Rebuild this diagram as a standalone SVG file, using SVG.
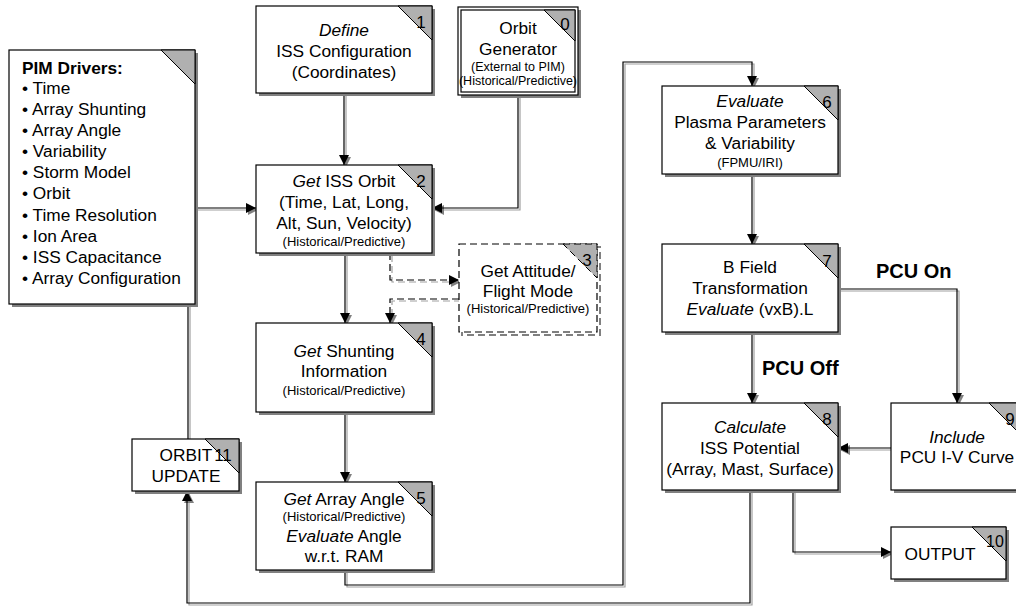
<svg xmlns="http://www.w3.org/2000/svg" width="1016" height="606" viewBox="0 0 1016 606">
<defs>
<style>
.bx{fill:#fff;stroke:#000;stroke-width:1.2}
.bd{fill:#fff;stroke:#000;stroke-width:1.2;stroke-dasharray:7 4}
.sh{fill:#808080}
.shd{fill:none;stroke:#808080;stroke-width:2;stroke-dasharray:7 4}
.tri{fill:#b0b0b0;stroke:#000;stroke-width:1}
text{font-family:"Liberation Sans",Arial,sans-serif;fill:#000}
.t{font-size:17.3px;text-anchor:middle}
.s{font-size:13px;text-anchor:middle}
.i{font-style:italic}
.n{font-size:17px;text-anchor:middle}
.l{font-size:17.3px}
.b{font-weight:bold}
.pcu{font-size:20px;font-weight:bold}
.ln{fill:none;stroke:#000;stroke-width:1.2;marker-end:url(#ah)}
.lg{fill:none;stroke:#a0a0a0;stroke-width:1.2;marker-end:url(#ag)}
.dl{stroke-dasharray:7 4}
</style>
<marker id="ah" markerUnits="userSpaceOnUse" markerWidth="12" markerHeight="12" refX="10" refY="5" orient="auto"><path d="M0,0 L10,5 L0,10 z" fill="#000"/></marker>
<marker id="ag" markerUnits="userSpaceOnUse" markerWidth="12" markerHeight="12" refX="10" refY="5" orient="auto"><path d="M0,0 L10,5 L0,10 z" fill="#808080"/></marker>
</defs>
<rect width="1016" height="606" fill="#fff"/>

<g id="connectors">
<g transform="translate(2,2)">
<path class="lg" d="M344,93 V165"/>
<path class="lg" d="M518,95 V208 H432"/>
<path class="lg" d="M188,439 V208 H256"/>
<path class="lg dl" d="M390,253 V280 H459"/>
<path class="lg dl" d="M459,299 H390 V323"/>
<path class="lg" d="M345,253 V323"/>
<path class="lg" d="M345,412 V482"/>
<path class="lg" d="M345,570 V585 H623 V62 H752 V86"/>
<path class="lg" d="M752,174 V244"/>
<path class="lg" d="M752,332 V403" stroke-width="2"/>
<path class="lg" d="M838,289 H957 V403"/>
<path class="lg" d="M891,448 H838"/>
<path class="lg" d="M793,490 V552 H891"/>
<path class="lg" d="M750,490 V603 H187 V491"/>
</g>
<path class="ln" d="M344,93 V165"/>
<path class="ln" d="M518,95 V208 H432"/>
<path class="ln" d="M188,439 V208 H256"/>
<path class="ln dl" d="M390,253 V280 H459"/>
<path class="ln dl" d="M459,299 H390 V323"/>
<path class="ln" d="M345,253 V323"/>
<path class="ln" d="M345,412 V482"/>
<path class="ln" d="M345,570 V585 H623 V62 H752 V86"/>
<path class="ln" d="M752,174 V244"/>
<path class="ln" d="M752,332 V403" stroke-width="2"/>
<path class="ln" d="M838,289 H957 V403"/>
<path class="ln" d="M891,448 H838"/>
<path class="ln" d="M793,490 V552 H891"/>
<path class="ln" d="M750,490 V603 H187 V491"/>
<text class="pcu" x="876" y="278">PCU On</text>
<text class="pcu" x="762" y="375">PCU Off</text>
</g>

<g id="pim-drivers">
<rect class="sh" x="12" y="53" width="186" height="254"/>
<rect class="bx" x="9" y="50" width="186" height="254"/>
<polygon class="tri" points="161,50 195,50 195,84"/>
<text class="l b" x="22" y="74">PIM Drivers:</text>
<text class="l" x="22" y="94">• Time</text>
<text class="l" x="22" y="115">• Array Shunting</text>
<text class="l" x="22" y="136">• Array Angle</text>
<text class="l" x="22" y="157">• Variability</text>
<text class="l" x="22" y="178">• Storm Model</text>
<text class="l" x="22" y="199">• Orbit</text>
<text class="l" x="22" y="221">• Time Resolution</text>
<text class="l" x="22" y="242">• Ion Area</text>
<text class="l" x="22" y="263">• ISS Capacitance</text>
<text class="l" x="22" y="284">• Array Configuration</text>
</g>

<g id="node1">
<rect class="sh" x="259" y="9" width="176" height="87"/>
<rect class="bx" x="256" y="6" width="176" height="87"/>
<polygon class="tri" points="398,6 432,6 432,40"/>
<text class="n" x="421" y="28">1</text>
<text class="t i" x="344" y="36">Define</text>
<text class="t" x="344" y="57">ISS Configuration</text>
<text class="t" x="344" y="78">(Coordinates)</text>
</g>

<g id="node0">
<rect class="sh" x="461" y="10" width="120" height="88"/>
<rect class="bx" x="458" y="7" width="120" height="88"/>
<rect class="bx" x="461" y="10" width="114" height="82"/>
<polygon class="tri" points="544,10 575,10 575,41"/>
<text class="n" x="565" y="30">0</text>
<text class="t" x="518" y="34">Orbit</text>
<text class="t" x="518" y="55">Generator</text>
<text class="s" x="518" y="71" style="font-size:12.5px">(External to PIM)</text>
<text class="s" x="518" y="85" style="font-size:12.5px">(Historical/Predictive)</text>
</g>

<g id="node2">
<rect class="sh" x="259" y="168" width="176" height="88"/>
<rect class="bx" x="256" y="165" width="176" height="88"/>
<polygon class="tri" points="398,165 432,165 432,199"/>
<text class="n" x="421" y="187">2</text>
<text class="t" x="344" y="187"><tspan class="i">Get</tspan> ISS Orbit</text>
<text class="t" x="344" y="208">(Time, Lat, Long,</text>
<text class="t" x="344" y="229">Alt, Sun, Velocity)</text>
<text class="s" x="344" y="246">(Historical/Predictive)</text>
</g>

<g id="node3">
<rect class="shd" x="462" y="247" width="138" height="88"/>
<rect class="bd" x="459" y="244" width="138" height="88"/>
<polygon class="tri" points="563,244 597,244 597,278" style="stroke-dasharray:7 4"/>
<text class="n" x="587" y="266">3</text>
<text class="t" x="528" y="277">Get Attitude/</text>
<text class="t" x="528" y="297">Flight Mode</text>
<text class="s" x="528" y="313">(Historical/Predictive)</text>
</g>

<g id="node4">
<rect class="sh" x="259" y="326" width="176" height="89"/>
<rect class="bx" x="256" y="323" width="176" height="89"/>
<polygon class="tri" points="398,323 432,323 432,357"/>
<text class="n" x="421" y="345">4</text>
<text class="t" x="344" y="357"><tspan class="i">Get</tspan> Shunting</text>
<text class="t" x="344" y="377">Information</text>
<text class="s" x="344" y="395">(Historical/Predictive)</text>
</g>

<g id="node5">
<rect class="sh" x="259" y="485" width="176" height="88"/>
<rect class="bx" x="256" y="482" width="176" height="88"/>
<polygon class="tri" points="398,482 432,482 432,516"/>
<text class="n" x="421" y="504">5</text>
<text class="t" x="344" y="505"><tspan class="i">Get</tspan> Array Angle</text>
<text class="s" x="344" y="521">(Historical/Predictive)</text>
<text class="t" x="344" y="542"><tspan class="i">Evaluate</tspan> Angle</text>
<text class="t" x="344" y="562">w.r.t. RAM</text>
</g>

<g id="node11">
<rect class="sh" x="135" y="442" width="107" height="52"/>
<rect class="bx" x="132" y="439" width="107" height="52"/>
<polygon class="tri" points="205,439 239,439 239,473"/>
<text class="n" x="223" y="461">11</text>
<text class="t" x="186" y="461">ORBIT</text>
<text class="t" x="186" y="482">UPDATE</text>
</g>

<g id="node6">
<rect class="sh" x="665" y="89" width="176" height="88"/>
<rect class="bx" x="662" y="86" width="176" height="88"/>
<polygon class="tri" points="804,86 838,86 838,120"/>
<text class="n" x="827" y="108">6</text>
<text class="t i" x="750" y="107">Evaluate</text>
<text class="t" x="750" y="128">Plasma Parameters</text>
<text class="t" x="750" y="149">&amp; Variability</text>
<text class="s" x="750" y="167">(FPMU/IRI)</text>
</g>

<g id="node7">
<rect class="sh" x="665" y="247" width="176" height="88"/>
<rect class="bx" x="662" y="244" width="176" height="88"/>
<polygon class="tri" points="804,244 838,244 838,278"/>
<text class="n" x="827" y="267">7</text>
<text class="t" x="750" y="273">B Field</text>
<text class="t" x="750" y="294">Transformation</text>
<text class="t" x="750" y="315"><tspan class="i">Evaluate</tspan> (vxB).L</text>
</g>

<g id="node8">
<rect class="sh" x="665" y="406" width="176" height="87"/>
<rect class="bx" x="662" y="403" width="176" height="87"/>
<polygon class="tri" points="804,403 838,403 838,437"/>
<text class="n" x="827" y="425">8</text>
<text class="t i" x="750" y="433">Calculate</text>
<text class="t" x="750" y="454">ISS Potential</text>
<text class="t" x="750" y="475">(Array, Mast, Surface)</text>
</g>

<g id="node9">
<rect class="sh" x="894" y="406" width="132" height="87"/>
<rect class="bx" x="891" y="403" width="132" height="87"/>
<polygon class="tri" points="989,403 1023,403 1023,437"/>
<text class="n" x="1010" y="425">9</text>
<text class="t i" x="957" y="443">Include</text>
<text class="t" x="957" y="463">PCU I-V Curve</text>
</g>

<g id="node10">
<rect class="sh" x="894" y="530" width="115" height="52"/>
<rect class="bx" x="891" y="527" width="115" height="52"/>
<polygon class="tri" points="972,527 1006,527 1006,561"/>
<text class="n" x="995" y="547" style="font-size:16px">10</text>
<text class="t" x="940" y="560">OUTPUT</text>
</g>
</svg>
